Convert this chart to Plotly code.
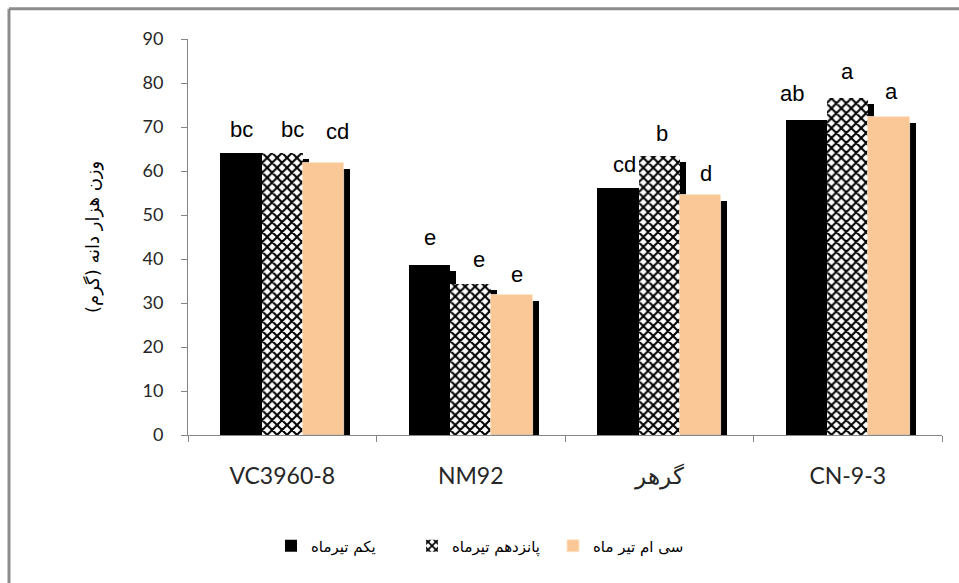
import plotly.graph_objects as go

# ---------------- data ----------------
categories = ["VC3960-8", "NM92", "گرهر", "CN-9-3"]
series_names = ["یکم تیرماه", "پانزدهم تیرماه", "سی ام تیر ماه"]
values_1 = [64.2, 38.6, 56.1, 71.5]
values_2 = [64.2, 34.3, 63.4, 76.7]
values_3 = [61.8, 31.8, 54.5, 72.3]
letters_1 = ["bc", "e", "cd", "ab"]
letters_2 = ["bc", "e", "b", "a"]
letters_3 = ["cd", "e", "d", "a"]
y_ticks = [0, 10, 20, 30, 40, 50, 60, 70, 80, 90]
y_title = "وزن هزار دانه (گرم)"

# ---------------- style ----------------
W, H = 959, 583
L, T = 188, 39
plot_w, plot_h = 754, 396
R = W - L - plot_w
B = H - T - plot_h
cat_px = plot_w / len(categories)
bar_w = 0.22
offsets = [-0.33, -0.11, 0.11]
shadow_dx = 6 / cat_px             # shadow shift right (category units)
shadow_dy = 6 * 90 / plot_h        # shadow shift down (data units)
axis_col = "#868686"

# per-label pixel nudges (style only)
label_dx = [[1, 1, 7, -14], [10, 8, 3, 0], [14, 5, 5, 2]]
label_gap = [[15, 19, 15, 18], [15, 16, 14, 18], [23, 12, 13, 17]]

series = [values_1, values_2, values_3]
letters = [letters_1, letters_2, letters_3]

fig = go.Figure()

# shadows first
for k, vals in enumerate(series):
    fig.add_trace(go.Bar(
        x=categories, y=[v - shadow_dy for v in vals],
        width=bar_w, offset=offsets[k] + shadow_dx,
        marker=dict(color="black", line=dict(width=0)),
        showlegend=False, hoverinfo="skip"))

markers = [
    dict(color="black", line=dict(width=0)),
    dict(color="white", line=dict(width=0),
         pattern=dict(shape="x", fgcolor="black", bgcolor="white",
                      size=7, solidity=0.5, fillmode="replace")),
    dict(color="#FAC796", line=dict(width=0.8, color="#FFE6CC")),
]
for k, vals in enumerate(series):
    fig.add_trace(go.Bar(
        x=categories, y=vals, name=series_names[k],
        width=bar_w, offset=offsets[k], marker=markers[k]))

# letters above bars
for k, vals in enumerate(series):
    for i, v in enumerate(vals):
        fig.add_annotation(
            x=categories[i], y=v, xref="x", yref="y",
            text=letters[k][i], showarrow=False,
            xshift=(offsets[k] + bar_w / 2) * cat_px + label_dx[k][i],
            yshift=label_gap[k][i] - 6, yanchor="bottom", xanchor="center",
            font=dict(family="Liberation Sans, Arial", size=22, color="black"))

# y-axis title
fig.add_annotation(
    x=(93 - L) / plot_w, y=0.5, xref="paper", yref="paper",
    text=y_title, textangle=-90, showarrow=False,
    xanchor="center", yanchor="middle",
    font=dict(family="DejaVu Sans", size=18, color="black"))

# outer frame: top and left edges only (right/bottom lie outside the picture)
y_base = T + plot_h
fx0 = (9 - L) / plot_w
fx1 = (W + 10 - L) / plot_w
fy_top = (y_base - 8.7) / plot_h
fy_bot = (y_base - (H + 10)) / plot_h
frame = dict(color="#8c8c8c", width=3)
fig.add_shape(type="line", xref="paper", yref="paper",
              x0=fx0, x1=fx1, y0=fy_top, y1=fy_top, line=frame, layer="below")
fig.add_shape(type="line", xref="paper", yref="paper",
              x0=fx0, x1=fx0, y0=fy_bot, y1=fy_top, line=frame, layer="below")

fig.update_layout(
    width=W, height=H,
    margin=dict(l=L, r=R, t=T, b=B, pad=0),
    paper_bgcolor="white", plot_bgcolor="white",
    barmode="overlay", bargap=0,
    showlegend=True,
    legend=dict(orientation="h", x=(271 - L) / plot_w, xanchor="left",
                y=(y_base - 546) / plot_h, yanchor="middle",
                entrywidth=96, entrywidthmode="pixels",
                font=dict(family="DejaVu Sans", size=15, color="black"),
                traceorder="normal", itemclick=False),
    xaxis=dict(type="category", categoryorder="array", categoryarray=categories,
               showline=True, linecolor=axis_col, linewidth=1,
               ticks="outside", tickson="boundaries", ticklen=6, tickcolor=axis_col,
               showgrid=False, zeroline=False, ticklabelstandoff=20,
               tickfont=dict(family="Lato, Open Sans", size=23, color="#262626")),
    yaxis=dict(range=[0, 90], tickvals=y_ticks, showline=True, linecolor=axis_col,
               linewidth=1, ticks="outside", ticklen=6, tickcolor=axis_col,
               showgrid=False, zeroline=False, ticklabelstandoff=14,
               tickfont=dict(family="Lato, Open Sans", size=18, color="#262626")),
)

fig.write_html(
    "out.html",
    config={"displayModeBar": False},
    post_script=(
        "document.documentElement.style.overflow='hidden';"
        "document.body.style.overflow='hidden';"
        "document.body.style.margin='0';"
    ),
)
